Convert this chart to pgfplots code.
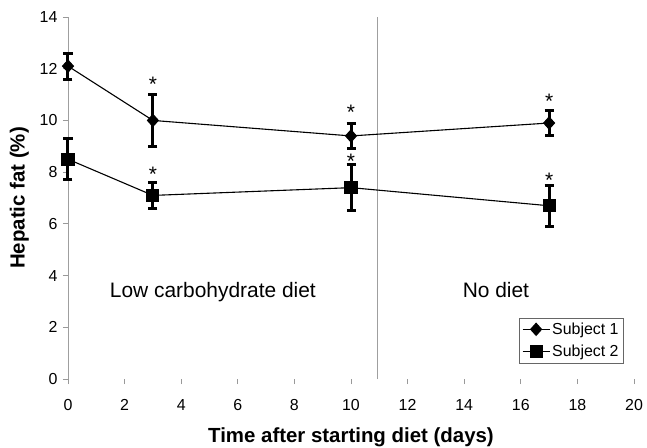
\documentclass[border=0pt]{standalone}
\usepackage{pgfplots}
\pgfplotsset{compat=1.18}
\usepackage{fontspec}
\setmainfont{Liberation Sans}
\begin{document}
\begin{tikzpicture}
\useasboundingbox (-68bp,-69bp) rectangle (579bp,379bp);
\begin{axis}[
  scale only axis, width=566bp, height=362bp,
  at={(0,0)}, anchor=south west,
  xmin=0, xmax=20, ymin=0, ymax=14,
  xtick={0,2,...,20}, ytick={0,2,...,14},
  axis x line*=bottom, axis y line*=left,
  x axis line style={draw=none},
  y axis line style={-, draw=gray!75, line width=0.9bp},
  tick align=outside, major tick length=5bp,
  tick style={gray!80, line width=0.8bp},
  ticklabel style={font=\fontsize{16}{19}\selectfont},
  /pgf/number format/assume math mode=true,
  xticklabel style={yshift=-12bp},
  yticklabel style={xshift=-2bp},
  xlabel={\textbf{Time after starting diet (days)}},
  ylabel={\textbf{Hepatic fat (\%)}},
  label style={font=\fontsize{20.5}{24}\selectfont},
  xlabel style={yshift=-10bp},
  ylabel style={yshift=4bp},
  legend style={at={(0.982,0.044)}, anchor=south east, draw=gray!80!black,
    font=\fontsize{16}{19}\selectfont, inner sep=3bp, row sep=5bp},
  legend cell align=left,
  legend image code/.code={\draw[mark repeat=2,mark phase=2] plot coordinates {(0bp,0bp) (13.5bp,0bp) (27bp,0bp)};},
  error bars/y dir=both, error bars/y explicit,
  error bars/error mark=|,
  error bars/error bar style={line width=3bp, black},
  error bars/error mark options={mark size=4.5bp, line width=3bp, black, solid},
  clip=false,
]
\addplot[gray!75, line width=0.9bp, forget plot, mark=none, error bars/y dir=none] coordinates {(10.95,0) (10.95,14)};

\addplot[black, line width=1.1bp, mark=diamond*, mark size=6bp, mark options={xscale=1.2, solid, fill=black}]
  coordinates {(0,12.1) +- (0,0.5) (3,10.0) +- (0,1.0) (10,9.4) +- (0,0.5) (17,9.9) +- (0,0.5)};
\addlegendentry{Subject 1}
\addplot[black, line width=1.1bp, mark=square*, mark size=6bp, mark options={solid, fill=black}]
  coordinates {(0,8.5) +- (0,0.8) (3,7.1) +- (0,0.5) (10,7.4) +- (0,0.9) (17,6.7) +- (0,0.8)};
\addlegendentry{Subject 2}

\addplot[draw=none, mark=none, forget plot, error bars/y dir=none,
  nodes near coords={*},
  every node near coord/.append style={anchor=base, inner sep=0pt, font=\fontsize{21}{24}\selectfont, black}]
  coordinates {(3,11.12) (10,10.04) (17,10.46) (3,7.64) (10,8.13) (17,7.41)};

\node[font=\fontsize{21}{25}\selectfont, anchor=base] at (axis cs:5.12,3.16) {Low carbohydrate diet};
\node[font=\fontsize{21}{25}\selectfont, anchor=base] at (axis cs:15.12,3.16) {No diet};
\end{axis}
\end{tikzpicture}
\end{document}
